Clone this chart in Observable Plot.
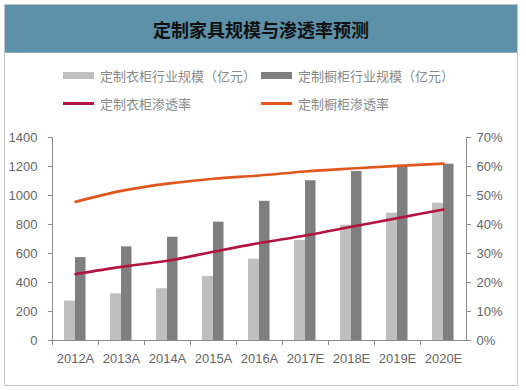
<!DOCTYPE html>
<html>
<head>
<meta charset="utf-8">
<script src="https://cdn.jsdelivr.net/npm/d3@7"></script>
<script src="https://cdn.jsdelivr.net/npm/@observablehq/plot@0.6"></script>
<style>
  html, body { margin: 0; padding: 0; background: #fff; }
  #wrap { position: relative; width: 526px; height: 390px; overflow: hidden; font-family: "Noto Sans CJK SC", sans-serif; }
  #box { position: absolute; left: 4px; top: 4px; width: 512px; height: 380px; border: 1px solid #c4c4c4; }
  #banner { position: absolute; left: 5px; top: 5px; width: 512px; height: 47px; background: #5d90a9; border-bottom: 1px solid #8aa9b8;
            display: flex; align-items: center; justify-content: center; font-size: 18px; font-weight: bold; color: #111; }
  .leg { position: absolute; display: flex; align-items: center; font-size: 13px; color: #8a8a8a; white-space: nowrap; }
  .sw { width: 31px; margin-right: 6px; }
  #chart { position: absolute; left: 0; top: 120px; }
</style>
</head>
<body>
<div id="wrap">
  <div id="box"></div>
  <div id="banner"></div>
  <div id="legend"></div>
  <div id="chart"></div>
</div>
<script>
const title = "定制家具规模与渗透率预测";
const years = ["2012A","2013A","2014A","2015A","2016A","2017E","2018E","2019E","2020E"];
const wardrobeSize = [272, 322, 357, 442, 560, 690, 795, 878, 946];
const cabinetSize  = [572, 646, 712, 816, 960, 1102, 1166, 1200, 1216];
const wardrobeRate = [22.9, 25.4, 27.5, 30.6, 33.6, 36.2, 39.2, 42.2, 45.2];
const cabinetRate  = [47.8, 51.6, 54.1, 55.8, 56.9, 58.3, 59.3, 60.2, 61.0];
const seriesNames = ["定制衣柜行业规模（亿元）", "定制橱柜行业规模（亿元）", "定制衣柜渗透率", "定制橱柜渗透率"];
const leftTicks = [0, 200, 400, 600, 800, 1000, 1200, 1400];
const rightTicks = [0, 10, 20, 30, 40, 50, 60, 70];

const colors = ["#bfbfbf", "#7f7f7f", "#b3143f", "#e0561d"];
const rateFactor = 1400 / 70;

document.getElementById("banner").textContent = title;

// legend
const legendPos = [[63, 75], [261, 75], [63, 103], [261, 103]];
const legend = document.getElementById("legend");
seriesNames.forEach((name, i) => {
  const item = document.createElement("div");
  item.className = "leg";
  item.style.left = legendPos[i][0] + "px";
  item.style.top = (legendPos[i][1] - 10) + "px";
  item.style.height = "20px";
  const sw = document.createElement("div");
  sw.className = "sw";
  sw.style.height = i < 2 ? "7px" : "3px";
  sw.style.background = colors[i];
  const t = document.createElement("span");
  t.textContent = name;
  item.appendChild(sw);
  item.appendChild(t);
  legend.appendChild(item);
});

const data = years.map((year, i) => ({
  year,
  wardrobe: wardrobeSize[i],
  cabinet: cabinetSize[i],
  wRate: wardrobeRate[i],
  cRate: cabinetRate[i]
}));

const chart = Plot.plot({
  width: 526,
  height: 250,
  marginLeft: 52,
  marginRight: 60,
  marginTop: 17,
  marginBottom: 30,
  x: { domain: years, padding: 0, label: null },
  y: { domain: [0, 1400], label: null },
  style: { fontFamily: "'Liberation Sans', Arial, sans-serif", fontSize: "13px", color: "#666", background: "transparent" },
  marks: [
    Plot.barY(data, { x: "year", y: "wardrobe", fill: colors[0], insetLeft: 12, insetRight: 23 }),
    Plot.barY(data, { x: "year", y: "cabinet", fill: colors[1], insetLeft: 23, insetRight: 12.5 }),
    Plot.line(data, { x: "year", y: d => d.cRate * rateFactor, stroke: colors[3], strokeWidth: 2.6, curve: "monotone-x" }),
    Plot.line(data, { x: "year", y: d => d.wRate * rateFactor, stroke: colors[2], strokeWidth: 2.6, curve: "monotone-x" }),
    Plot.frame({ anchor: "left", stroke: "#8c8c8c" }),
    Plot.frame({ anchor: "right", stroke: "#8c8c8c" }),
    Plot.frame({ anchor: "bottom", stroke: "#8c8c8c" }),
    Plot.axisY({ anchor: "left", ticks: leftTicks, tickFormat: d => String(d), tickSize: 4, tickPadding: 11, label: null, stroke: "#8c8c8c" }),
    Plot.axisY({ anchor: "right", ticks: rightTicks.map(v => v * rateFactor), tickFormat: d => (d / rateFactor) + "%", tickSize: 4, tickPadding: 6, label: null, stroke: "#8c8c8c" }),
    Plot.axisX({ tickSize: 0, tickPadding: 13, label: null }),
    Plot.axisX({ tickSize: 5, tickFormat: null, dx: -23, label: null, stroke: "#8c8c8c" })
  ]
});
document.getElementById("chart").appendChild(chart);
</script>
</body>
</html>
